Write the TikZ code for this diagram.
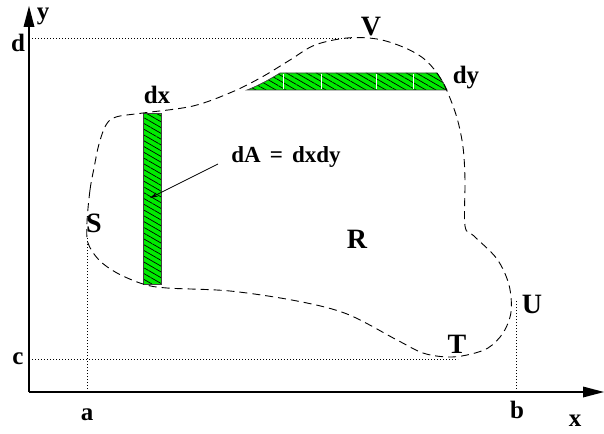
\documentclass[tikz,border=0pt]{standalone}
\usepackage{fontspec}
\setmainfont{Liberation Serif}
\usetikzlibrary{arrows.meta,patterns.meta,calc}
\definecolor{stripgreen}{RGB}{0,235,0}
\begin{document}
\begin{tikzpicture}[x=1pt,y=-1pt,
  lbl/.style={font=\fontsize{25}{25}\selectfont\bfseries, inner sep=0pt},
  caplbl/.style={font=\fontsize{28}{28}\selectfont\bfseries, inner sep=0pt},
  axisline/.style={line width=1.4pt},
  axishead/.style={fill=black},
  guide/.style={line width=0.8pt, dash pattern=on 0.8pt off 2.2pt},
  boundary/.style={line width=0.9pt, dash pattern=on 8pt off 5pt},
  stripfill/.style={fill=stripgreen},
  hatch/.style={pattern={Lines[angle=-30,distance=5pt,line width=0.7pt]}, pattern color=black},
  stripedge/.style={draw=black!75, line width=0.7pt},
  divider/.style={draw=white, line width=1pt}]
\useasboundingbox (0,0) rectangle (604,433);

% axes
\coordinate (O) at (29,392);
\coordinate (Ytip) at (29,6);
\coordinate (Ybase) at (29,27);
\coordinate (Xtip) at (604,392);
\coordinate (Xbase) at (583,392);
\draw[axisline] (O) -- (Ybase);
\draw[axisline] (O) -- (Xbase);
\fill[axishead] (Ytip) -- ($(Ybase)+(-5.5,0)$) -- ($(Ybase)+(5.5,0)$) -- cycle;
\fill[axishead] (Xtip) -- ($(Xbase)+(0,-5.5)$) -- ($(Xbase)+(0,5.5)$) -- cycle;

% guide lines
\coordinate (dAxis) at (29,38);   \coordinate (dEnd) at (352,38);
\coordinate (cAxis) at (29,359);  \coordinate (cEnd) at (458,359);
\coordinate (aAxis) at (87,392);  \coordinate (aEnd) at (87,238);
\coordinate (bAxis) at (516,392); \coordinate (bEnd) at (516,300);
\draw[guide] (dAxis) -- (dEnd);
\draw[guide] (cAxis) -- (cEnd);
\draw[guide] (aAxis) -- (aEnd);
\draw[guide] (bAxis) -- (bEnd);

% horizontal strip dy
\def\hstrip{(247,90) .. controls (260,85) and (272,78) .. (280,73) -- (437,73) .. controls (441,79) and (445,85) .. (447,90) -- cycle}
\path[stripfill] \hstrip;
\path[hatch] \hstrip;
\foreach \xx in {283,321,376,413} \draw[divider] (\xx,73.6) -- (\xx,89.4);
\draw[stripedge] \hstrip;

% vertical strip dx
\def\vstrip{(143,113) rectangle (161,284)}
\path[stripfill] \vstrip;
\path[hatch] \vstrip;
\draw[stripedge] \vstrip;

% region boundary
\draw[boundary] plot[smooth cycle, tension=0.55] coordinates {
  (87,222) (90,190) (94,168) (99,144) (106,125) (116,117) (143,113) (193,106)
  (232,92) (262,77) (290,60) (315,45) (347,38) (377,39) (403,47) (423,58)
  (437,73) (447,91) (457,118) (463,147) (465,180) (465,226) (474,236)
  (497,259) (509,285) (511,312) (503,333) (488,348) (467,355) (447,357)
  (423,353) (397,340) (347,314) (297,301) (230,291) (167,288) (143,284)
  (117,273) (99,260) (88,243)};

% labels
\node[lbl] (ly) at (43,16) {y};
\node[lbl] (lx) at (575,421) {x};
\node[lbl] (ld) at (18,43) {d};
\node[lbl] (lc) at (18,359) {c};
\node[lbl] (la) at (87,415) {a};
\node[lbl] (lb) at (517,410) {b};
\node[lbl] (ldx) at (157,95) {dx};
\node[lbl] (ldy) at (466,78) {dy};
\node[caplbl] (lV) at (371,27) {V};
\node[caplbl] (lS) at (94,223) {S};
\node[caplbl] (lR) at (357,239) {R};
\node[caplbl] (lU) at (532,304) {U};
\node[caplbl] (lT) at (457,344) {T};
\node[font=\fontsize{23}{23}\selectfont\bfseries, inner sep=0pt] (ldA) at (286,157)
  {dA\hspace{0.4em}=\hspace{0.4em}dxdy};

% arrow to strip
\coordinate (arrowstart) at (218,164);
\coordinate (arrowend) at (150,198);
\draw[line width=0.8pt, -{Stealth[length=8pt,width=4.5pt]}] (arrowstart) -- (arrowend);
\end{tikzpicture}
\end{document}
